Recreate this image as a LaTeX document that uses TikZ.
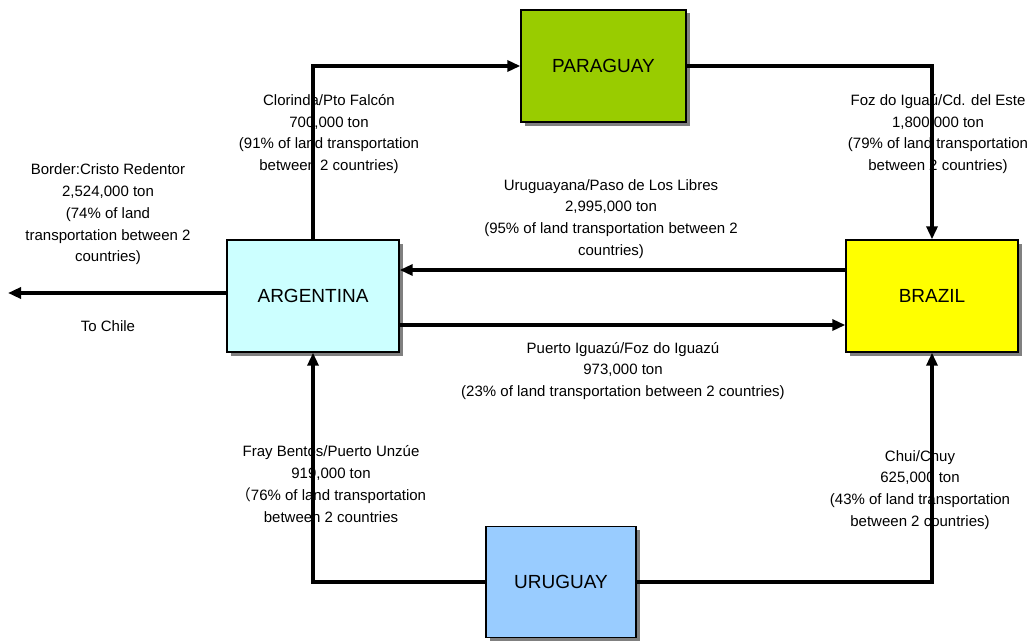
\documentclass[tikz,border=0pt]{standalone}
\usepackage{fontspec}
\setmainfont{Liberation Sans}
\newfontfamily\cjk{Noto Sans CJK SC}
\usetikzlibrary{arrows.meta,shadows}
\definecolor{argc}{HTML}{CCFFFF}
\definecolor{parc}{HTML}{99CC00}
\definecolor{brac}{HTML}{FFFF00}
\definecolor{uruc}{HTML}{99CCFF}
\begin{document}
\begin{tikzpicture}[x=1pt,y=-1pt,
  country/.style={draw=black,line width=1.4pt,font=\fontsize{19}{22}\selectfont,
    drop shadow={shadow xshift=3.5pt,shadow yshift=-3.5pt,fill=black!50,opacity=1}},
  lbl/.style={align=center,font=\fontsize{15}{21.8}\selectfont,inner sep=0pt},
  link/.style={line width=3.2pt,-{Triangle[length=13pt,width=11pt]}}]
\useasboundingbox (0,0) rectangle (1032,642);
\node[country,fill=argc,minimum width=172pt,minimum height=112pt] (arg) at (313,296) {ARGENTINA};
\node[country,fill=parc,minimum width=165pt,minimum height=112pt] (par) at (603.5,66) {PARAGUAY};
\node[country,fill=brac,minimum width=172pt,minimum height=112pt] (bra) at (932,296) {BRAZIL};
\node[country,fill=uruc,minimum width=150pt,minimum height=111pt] (uru) at (561,582) {URUGUAY};

\node[lbl] (lchile) at (108,214.5) {Border:Cristo Redentor\\2,524,000 ton\\(74\% of land\\transportation between 2\\countries)};
\node[lbl] (tochile) at (108,326) {To Chile};
\node[lbl] (lclo) at (329,134) {Clorinda/Pto Falcón\\700,000 ton\\(91\% of land transportation\\between 2 countries)};
\node[lbl] (lfoz) at (938,134) {Foz do Iguaú/Cd. del Este\\1,800,000 ton\\(79\% of land transportation\\between 2 countries)};
\node[lbl] (luru) at (611,219) {Uruguayana/Paso de Los Libres\\2,995,000 ton\\(95\% of land transportation between 2\\countries)};
\node[lbl] (lpue) at (623,371) {Puerto Iguazú/Foz do Iguazú\\973,000 ton\\(23\% of land transportation between 2 countries)};
\node[lbl] (lfray) at (331,484) {Fray Bentos/Puerto Unzúe\\919,000 ton\\{\cjk （}76\% of land transportation\\between 2 countries};
\node[lbl] (lchui) at (920,490) {Chui/Chuy\\625,000 ton\\(43\% of land transportation\\between 2 countries)};

\coordinate (chile) at (8,293);
\draw[link] (arg.north) |- (par.west);
\draw[link] (par.east) -| (bra.north);
\draw[link] ([yshift=26pt]bra.west) -- ([yshift=26pt]arg.east);
\draw[link] ([yshift=-29pt]arg.east) -- ([yshift=-29pt]bra.west);
\draw[link] ([yshift=3pt]arg.west) -- (chile);
\draw[link] (uru.west) -| (arg.south);
\draw[link] (uru.east) -| (bra.south);
\end{tikzpicture}
\end{document}
